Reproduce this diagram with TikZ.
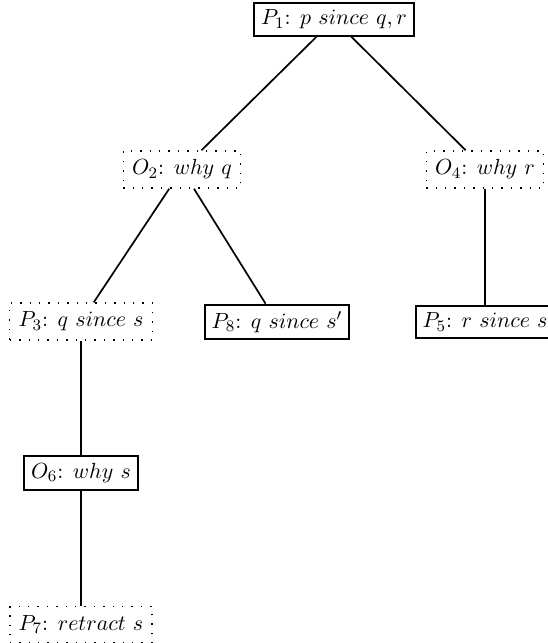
\documentclass[tikz,border=0pt]{standalone}
\begin{document}
\begin{tikzpicture}[x=0.5pt,y=-0.5pt,
  every node/.style={font=\fontsize{10.8}{13}\selectfont},
  solidbox/.style={draw,line width=1pt,inner sep=3.4pt},
  dotbox/.style={draw,loosely dotted,line width=0.7pt,inner sep=4.4pt},
  edge/.style={line width=0.85pt}]
\useasboundingbox (0,0) rectangle (547,643);
\node[solidbox] (p1) at (334,19.5) {$P_1$: $p\ since\ q, r$};
\node[dotbox] (o2) at (182,169.5) {$O_2$: $why\ q$};
\node[dotbox] (o4) at (485,169.5) {$O_4$: $why\ r$};
\node[dotbox] (p3) at (81,321.5) {$P_3$: $q\ since\ s$};
\node[solidbox] (p8) at (277,322) {$P_8$: $q\ since\ s'$};
\node[solidbox] (p5) at (485,322) {$P_5$: $r\ since\ s$};
\node[solidbox] (o6) at (81,473) {$O_6$: $why\ s$};
\node[dotbox] (p7) at (81,624.5) {$P_7$: $retract\ s$};
\draw[edge] (p1) -- (o2);
\draw[edge] (p1) -- (o4);
\draw[edge] (o2) -- (p3);
\draw[edge] (o2) -- (p8);
\draw[edge] (o4) -- (p5);
\draw[edge] (p3) -- (o6);
\draw[edge] (o6) -- (p7);
\end{tikzpicture}
\end{document}
